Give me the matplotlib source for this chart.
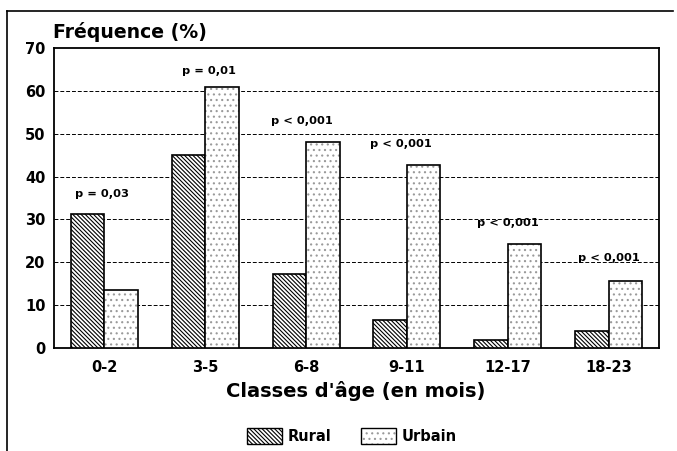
import matplotlib
matplotlib.use("Agg")
import matplotlib.pyplot as plt
import numpy as np
from matplotlib.patches import Patch
from matplotlib.lines import Line2D
from matplotlib.legend_handler import HandlerTuple

categories = ["0-2", "3-5", "6-8", "9-11", "12-17", "18-23"]
rural = [31.3, 45.0, 17.2, 6.5, 1.9, 4.0]
urbain = [13.5, 61.0, 48.1, 42.6, 24.3, 15.6]
p_labels = ["p = 0,03", "p = 0,01", "p < 0,001", "p < 0,001", "p < 0,001", "p < 0,001"]
p_label_y = [36.0, 64.7, 53.0, 47.5, 29.2, 21.0]
p_label_dx = [-0.02, 0.04, -0.04, -0.06, 0.0, 0.0]
yticks = [0, 10, 20, 30, 40, 50, 60, 70]

plt.rcParams['font.family'] = ['DejaVu Sans']
plt.rcParams['font.weight'] = 'bold'
plt.rcParams['hatch.linewidth'] = 0.8

fig = plt.figure(figsize=(6.77, 4.51), dpi=100)
W, H = 677, 451
ax = fig.add_axes([54 / W, 1 - 348 / H, (659 - 54) / W, (348 - 48) / H])

x = np.arange(len(categories))
bw = 0.333
rh = '\\' * 8

ax.bar(x - bw / 2, rural, width=bw, facecolor='white', edgecolor='black',
       hatch=rh, linewidth=1.2, zorder=3)
ax.bar(x + bw / 2, urbain, width=bw, facecolor='white', edgecolor='#9a9a9a',
       hatch='...', linewidth=0, zorder=3)
ax.bar(x + bw / 2, urbain, width=bw, facecolor='none', edgecolor='black',
       linewidth=1.2, zorder=4)

for i, (lab, yy, dx) in enumerate(zip(p_labels, p_label_y, p_label_dx)):
    ax.text(x[i] + dx, yy, lab, ha='center', va='center', fontsize=8.2,
            fontweight='bold', zorder=5)

ax.set_xlim(-0.5, len(categories) - 0.5)
ax.set_ylim(0, 70)
ax.set_yticks(yticks)
ax.set_xticks(x)
ax.set_xticklabels(categories, fontsize=10.5, fontweight='bold')
ax.set_yticklabels([str(v) for v in yticks], fontsize=10.5, fontweight='bold')
ax.tick_params(axis='both', length=0)
ax.tick_params(axis='x', pad=9)
ax.tick_params(axis='y', pad=6)
for v in yticks[1:-1]:
    ax.axhline(v, color='black', linestyle=(0, (4, 2)), linewidth=0.7, zorder=1)
for s in ax.spines.values():
    s.set_linewidth(1.3)

fig.text(53 / W, 1 - 32 / H, "Fréquence (%)", fontsize=13.6, fontweight='bold',
         ha='left', va='center')
fig.text(356 / W, 1 - 391 / H, "Classes d'âge (en mois)", fontsize=14,
         fontweight='bold', ha='center', va='center')

h_rural = Patch(facecolor='white', edgecolor='black', hatch=rh, linewidth=1.0)
h_urb_fill = Patch(facecolor='white', edgecolor='#9a9a9a', hatch='...', linewidth=0)
h_urb_edge = Patch(facecolor='none', edgecolor='black', linewidth=1.0)
fig.legend([h_rural, (h_urb_fill, h_urb_edge)], ["Rural", "Urbain"],
           handler_map={tuple: HandlerTuple(ndivide=1, pad=0)},
           loc='center', bbox_to_anchor=(352 / W, 1 - 436 / H), ncol=2,
           frameon=False, handlelength=2.4, handleheight=1.3, columnspacing=2.0,
           handletextpad=0.4, prop={'size': 10.5, 'weight': 'bold'})

# outer frame of the figure
fig.add_artist(Line2D([7 / W, 7 / W], [0, 1 - 11 / H], color='black',
                      linewidth=1.2, transform=fig.transFigure))
fig.add_artist(Line2D([7 / W, 673 / W], [1 - 11 / H, 1 - 11 / H], color='black',
                      linewidth=1.2, transform=fig.transFigure))

fig.savefig("out.png", dpi=100)
